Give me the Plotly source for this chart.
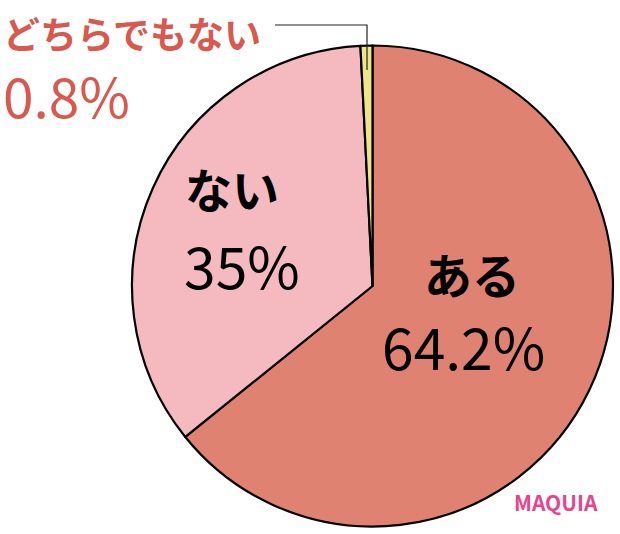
import plotly.graph_objects as go

# data
labels = ["ある", "ない", "どちらでもない"]
values = [64.2, 35, 0.8]
colors = ["#E08272", "#F4BAC0", "#EEE48A"]

W, H = 620, 534


def px(x):
    return x / W


def py(y):
    return 1 - y / H


fig = go.Figure()

fig.add_trace(go.Pie(labels=labels,
                     values=values,
                     sort=False,
                     direction="clockwise",
                     rotation=0,
                     textinfo="none",
                     hoverinfo="label+percent",
                     marker=dict(colors=colors, line=dict(color="black", width=2.2)),
                     domain=dict(x=[px(132), px(613)], y=[py(527), py(45)]),
                     showlegend=False))

jp = "Noto Sans CJK JP"
annos = [
    # text, x, y, size, color, bold, xanchor
    ("ない", 232, 188, 47, "black", True, "center"),
    ("35%", 242, 264, 57, "black", False, "center"),
    ("ある", 472, 273, 48, "black", True, "center"),
    ("64.2%", 463, 345, 57, "black", False, "center"),
    ("どちらでもない", 1, 33, 37, "#D9594E", True, "left"),
    ("0.8%", 1, 94, 55, "#D9594E", False, "left"),
    ("MAQUIA", 556, 502, 21, "#E8448C", True, "center"),
]
for text, x, y, size, color, bold, xa in annos:
    fig.add_annotation(text="<b>%s</b>" % text if bold else text,
                       x=px(x), y=py(y), xref="paper", yref="paper",
                       xanchor=xa, yanchor="middle", showarrow=False,
                       font=dict(family=jp, size=size, color=color))

# leader line for the small slice
fig.add_shape(type="path",
              path="M %f,%f L %f,%f L %f,%f" % (px(275), py(25), px(367), py(25), px(367), py(70)),
              xref="paper", yref="paper", line=dict(color="#222222", width=1.2))

fig.update_layout(width=W, height=H,
                  margin=dict(l=0, r=0, t=0, b=0),
                  paper_bgcolor="white",
                  plot_bgcolor="white",
                  font_family=jp)

# drop the browser's default body margin so the figure sits at the page corner
fig.write_html("out.html",
               config={"displayModeBar": False},
               post_script="document.body.style.margin='0';")
